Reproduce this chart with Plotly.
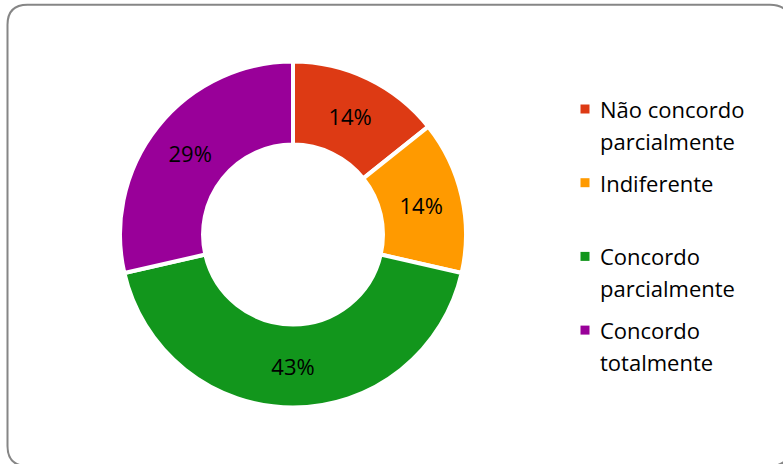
import re
import plotly.graph_objects as go

# Survey answers (number of respondents per option)
labels = ["Não concordo parcialmente", "Indiferente", "Concordo parcialmente", "Concordo totalmente"]
counts = [1, 1, 3, 2]
colors = ["#DD3A14", "#FF9A00", "#12961C", "#990099"]
# Legend text, wrapped as it is laid out beside the ring
legend_lines = [["Não concordo", "parcialmente"], ["Indiferente"], ["Concordo", "parcialmente"], ["Concordo", "totalmente"]]

W, H = 783, 464
FONT = "Open Sans"


def px(x):
    return x / W


def py(y):
    return 1 - y / H


# ring geometry in pixels
cx, cy, r_out = 293, 234.5, 173

fig = go.Figure(
    go.Pie(
        labels=labels,
        values=counts,
        hole=0.52,
        sort=False,
        direction="clockwise",
        rotation=0,
        marker=dict(colors=colors, line=dict(color="white", width=4)),
        texttemplate="%{percent:.0%}",
        textposition="inside",
        insidetextorientation="horizontal",
        textfont=dict(family=FONT, size=22, color="black"),
        domain=dict(x=[px(cx - r_out), px(cx + r_out)], y=[py(cy + r_out), py(cy - r_out)]),
        showlegend=False,
        hoverinfo="label+percent",
    )
)


def to_paper(path):
    """Convert a pixel-space SVG path into paper coordinates."""
    out, coords = [], []
    for t in path.split():
        if re.fullmatch(r"[A-Za-z]", t):
            out.append(t)
        else:
            coords.append(float(t))
            if len(coords) == 2:
                out.append(f"{px(coords[0]):.5f},{py(coords[1]):.5f}")
                coords = []
    return " ".join(out)


# rounded chart-area border
border = "M 7.5 24.7 Q 7.5 4.7 27.5 4.7 L 770 4.7 Q 790 4.7 790 24.7 L 790 446 Q 790 466 770 466 L 27.5 466 Q 7.5 466 7.5 446 Z"
shapes = [
    dict(
        type="path",
        xref="paper", yref="paper",
        path=to_paper(border),
        line=dict(color="#868686", width=2),
        layer="below",
    )
]

# legend beside the ring: a coloured square per option and its wrapped name
annotations = []
entry_top, entry_step, line_step = 109, 73.7, 32
for i, (lines, col) in enumerate(zip(legend_lines, colors)):
    y0 = entry_top + entry_step * i
    shapes.append(dict(
        type="rect", xref="paper", yref="paper",
        x0=px(580.5), x1=px(589.5), y0=py(y0 + 4.5), y1=py(y0 - 4.5),
        fillcolor=col, line=dict(width=0),
    ))
    for j, txt in enumerate(lines):
        annotations.append(dict(
            text=txt, xref="paper", yref="paper",
            x=px(598), y=py(y0 + line_step * j),
            xanchor="left", yanchor="middle", showarrow=False,
            font=dict(family=FONT, size=22, color="black"),
        ))

fig.update_layout(
    width=W, height=H,
    margin=dict(l=0, r=0, t=0, b=0),
    paper_bgcolor="white",
    plot_bgcolor="white",
    shapes=shapes,
    annotations=annotations,
)

fig.write_html("out.html")
